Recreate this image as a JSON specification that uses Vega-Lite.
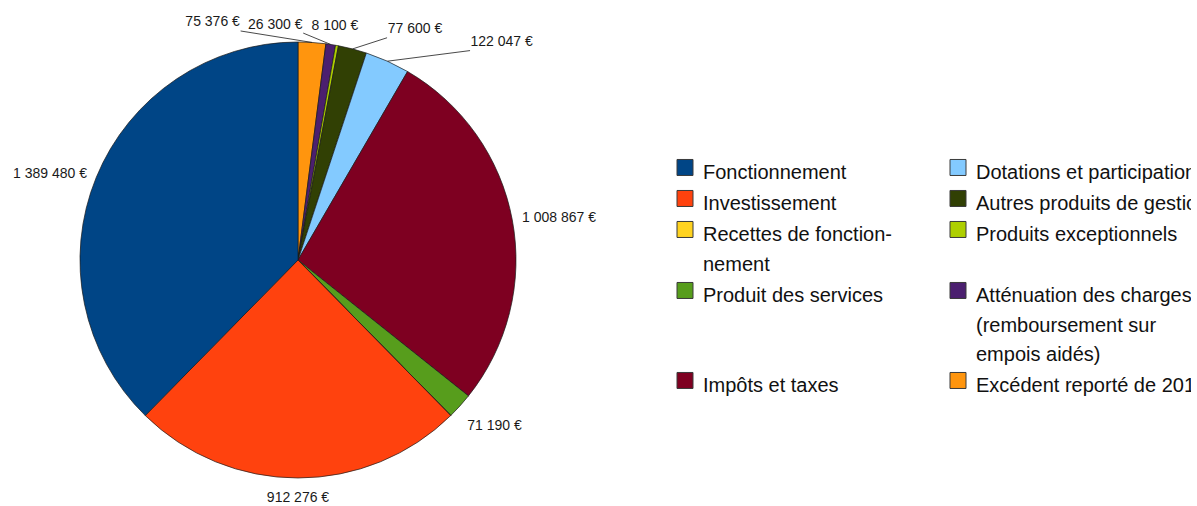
{
  "$schema": "https://vega.github.io/schema/vega-lite/v6.json",
  "width": 596,
  "height": 492,
  "autosize": {"type": "none"},
  "padding": {"left": 0, "top": 14, "right": 595, "bottom": 0},
  "background": "white",
  "config": {
    "view": {"stroke": null},
    "font": "Liberation Sans",
    "style": {"guide-label": {"lineHeight": 29.5}}
  },
  "data": {
    "values": [
      {"k": 1, "cat": "Excédent reporté de 2010", "value": 75376},
      {"k": 2, "cat": "Atténuation des charges (remboursement sur empois aidés)", "value": 26300},
      {"k": 3, "cat": "Produits exceptionnels", "value": 8100},
      {"k": 4, "cat": "Autres produits de gestion courante", "value": 77600},
      {"k": 5, "cat": "Dotations et participations", "value": 122047},
      {"k": 6, "cat": "Impôts et taxes", "value": 1008867},
      {"k": 7, "cat": "Produit des services", "value": 71190},
      {"k": 8, "cat": "Recettes de fonctionnement", "value": 0},
      {"k": 9, "cat": "Investissement", "value": 912276},
      {"k": 10, "cat": "Fonctionnement", "value": 1389480}
    ]
  },
  "transform": [
    {"joinaggregate": [{"op": "sum", "field": "value", "as": "total"}]},
    {"window": [{"op": "sum", "field": "value", "as": "cum"}], "sort": [{"field": "k"}], "frame": [null, 0]},
    {"calculate": "(datum.cum - datum.value / 2) / datum.total * 360", "as": "deg"},
    {"calculate": "datum.deg * PI / 180", "as": "rad"},
    {"calculate": "replace(format(datum.value, ','), regexp(',', 'g'), ' ') + ' €'", "as": "lbl"},
    {"calculate": "datum.k == 1 ? -100 : datum.k == 2 ? -57 : datum.k == 3 ? -4 : datum.k == 4 ? 60 : datum.k == 5 ? 110 : 0", "as": "ldx"}
  ],
  "layer": [
    {
      "mark": {"type": "arc", "outerRadius": 218, "stroke": "#1a1a1a", "strokeWidth": 0.7},
      "encoding": {
        "theta": {"field": "value", "type": "quantitative", "stack": true},
        "order": {"field": "k", "type": "quantitative"},
        "color": {
          "field": "cat",
          "type": "nominal",
          "scale": {
            "domain": ["Fonctionnement", "Investissement", "Recettes de fonctionnement", "Produit des services", "Impôts et taxes", "Dotations et participations", "Autres produits de gestion courante", "Produits exceptionnels", "Atténuation des charges (remboursement sur empois aidés)", "Excédent reporté de 2010"],
            "range": ["#004586", "#ff420e", "#ffd320", "#579d1c", "#7e0021", "#83caff", "#314004", "#aecf00", "#4b1f6f", "#ff950e"]
          },
          "legend": {
            "orient": "none",
            "legendX": 675,
            "legendY": 139,
            "direction": "vertical",
            "columns": 2,
            "title": null,
            "padding": 0,
            "symbolType": "M-1,-0.44H1V1.56H-1Z",
            "symbolSize": 256,
            "symbolStrokeColor": "#3a3a3a",
            "symbolStrokeWidth": 1,
            "symbolOpacity": 1,
            "labelFont": "Liberation Sans",
            "labelFontSize": 20,
            "labelColor": "#111111",
            "labelOffset": 8,
            "labelBaseline": "top",
            "labelLimit": 800,
            "columnPadding": 56,
            "rowPadding": 1,
            "labelExpr": "datum.label == 'Recettes de fonctionnement' ? ['Recettes de fonction-', 'nement'] : datum.label == 'Atténuation des charges (remboursement sur empois aidés)' ? ['Atténuation des charges', '(remboursement sur', 'empois aidés)'] : datum.label"
          }
        }
      }
    },
    {
      "transform": [{"filter": "datum.value > 0"}],
      "mark": {
        "type": "text",
        "radius": 228,
        "font": "Liberation Sans",
        "fontSize": 14,
        "color": "#1a1a1a",
        "align": {"expr": "datum.deg > 30 && datum.deg < 150 ? 'left' : (datum.deg > 210 && datum.deg < 330 ? 'right' : 'center')"},
        "baseline": {"expr": "(datum.deg > 60 && datum.deg < 120) || (datum.deg > 240 && datum.deg < 300) ? 'middle' : (datum.deg >= 120 && datum.deg <= 240 ? 'top' : 'bottom')"},
        "dx": {"expr": "datum.ldx"},
        "dy": {"expr": "datum.k <= 5 ? -3 : (datum.deg >= 160 && datum.deg <= 200 ? 3 : (datum.deg >= 120 && datum.deg <= 240 ? 6 : 0))"}
      },
      "encoding": {
        "theta": {"field": "value", "type": "quantitative", "stack": true},
        "order": {"field": "k", "type": "quantitative"},
        "detail": {"field": "cat", "type": "nominal"},
        "text": {"field": "lbl", "type": "nominal"}
      }
    },
    {
      "transform": [
        {"filter": "datum.k == 1 || datum.k == 2 || datum.k == 4 || datum.k == 5"},
        {"calculate": "width / 2 + 218 * sin(datum.rad)", "as": "sx"},
        {"calculate": "height / 2 - 218 * cos(datum.rad)", "as": "sy"},
        {"calculate": "width / 2 + 228 * sin(datum.rad) + datum.ldx + (datum.ldx < 0 ? 1 : -1) * 3.5 * length(datum.lbl)", "as": "ex"},
        {"calculate": "height / 2 - 228 * cos(datum.rad) - 1.5", "as": "ey"}
      ],
      "mark": {"type": "rule", "color": "#1a1a1a", "strokeWidth": 0.8},
      "encoding": {
        "x": {"field": "sx", "type": "quantitative", "scale": null, "axis": null},
        "y": {"field": "sy", "type": "quantitative", "scale": null, "axis": null},
        "x2": {"field": "ex"},
        "y2": {"field": "ey"}
      }
    }
  ]
}
